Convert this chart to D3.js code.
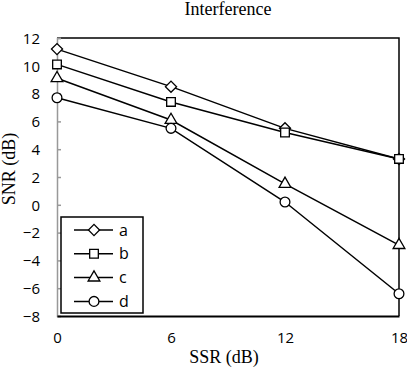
<!DOCTYPE html>
<html>
<head>
<meta charset="utf-8">
<script src="https://cdn.jsdelivr.net/npm/d3@7"></script>
<style>
  body { margin: 0; background: #fff; }
  .tick text { font-family: "Open Sans", sans-serif; font-size: 15px; fill: #000; }
  .serif { font-family: "Liberation Serif", "Times New Roman", serif; font-size: 18px; }
</style>
</head>
<body>
<div id="chart-area"></div>
<script>
const ssr = [0, 6, 12, 18];
const seriesNames = ["a", "b", "c", "d"];
const valuesA = [11.2, 8.5, 5.5, 3.3];
const valuesB = [10.1, 7.4, 5.2, 3.3];
const valuesC = [9.1, 6.1, 1.5, -2.9];
const valuesD = [7.7, 5.5, 0.2, -6.4];
const yTicks = [-8, -6, -4, -2, 0, 2, 4, 6, 8, 10, 12];
const xTicks = [0, 6, 12, 18];

const W = 407, H = 374;
const margin = { top: 38, right: 8, bottom: 58, left: 57 };
const width = W - margin.left - margin.right;
const height = H - margin.top - margin.bottom;

const svg = d3.select("#chart-area")
  .append("svg")
    .attr("width", W)
    .attr("height", H);

const g = svg.append("g")
  .attr("transform", `translate(${margin.left}, ${margin.top})`);

const x = d3.scaleLinear().domain([0, 18]).range([0, width]);
const y = d3.scaleLinear().domain([-8, 12]).range([height, 0]);

// frame: top and right
g.append("path")
  .attr("d", `M0,0H${width}V${height}`)
  .attr("fill", "none")
  .attr("stroke", "#000")
  .attr("stroke-width", 1.5);

const yAxis = g.append("g")
  .attr("class", "y-axis")
  .call(d3.axisRight(y).tickValues(yTicks).tickSize(4).tickFormat(d3.format("d")));
yAxis.select(".domain").attr("stroke", "#999").attr("stroke-width", 1.5);
yAxis.selectAll(".tick line").attr("stroke", "#999").attr("stroke-width", 1.5);
yAxis.selectAll(".tick text")
  .attr("x", -17)
  .attr("text-anchor", "end")
  .attr("dy", "0.35em");

const xAxis = g.append("g")
  .attr("class", "x-axis")
  .attr("transform", `translate(0, ${height})`)
  .call(d3.axisBottom(x).tickValues(xTicks).tickSize(0).tickPadding(16));
xAxis.select(".domain").attr("stroke", "#000").attr("stroke-width", 2);

// diamond = square turned 45 degrees
const series = [
  { name: seriesNames[0], values: valuesA, shape: d3.symbolSquare, size: 62, rot: 45 },
  { name: seriesNames[1], values: valuesB, shape: d3.symbolSquare, size: 75, rot: 0 },
  { name: seriesNames[2], values: valuesC, shape: d3.symbolTriangle, size: 60, rot: 0 },
  { name: seriesNames[3], values: valuesD, shape: d3.symbolCircle, size: 75, rot: 0 }
];

const line = d3.line()
  .x((d, i) => x(ssr[i]))
  .y(d => y(d));

series.forEach((s) => {
  g.append("path")
    .datum(s.values)
    .attr("d", line)
    .attr("fill", "none")
    .attr("stroke", "#000")
    .attr("stroke-width", 1.5);
});

series.forEach((s) => {
  g.selectAll(null)
    .data(s.values)
    .enter()
    .append("path")
      .attr("d", d3.symbol(s.shape, s.size))
      .attr("transform", (d, i) => `translate(${x(ssr[i])}, ${y(d)}) rotate(${s.rot})`)
      .attr("fill", "#fff")
      .attr("stroke", "#000")
      .attr("stroke-width", 1.3);
});

// legend
const legend = g.append("g")
  .attr("transform", "translate(4, 179)");

legend.append("rect")
  .attr("width", 82)
  .attr("height", 96)
  .attr("fill", "#fff")
  .attr("stroke", "#000")
  .attr("stroke-width", 1.5);

series.forEach((s, i) => {
  const row = legend.append("g")
    .attr("transform", `translate(0, ${13 + i * 23.8})`);
  row.append("line")
    .attr("x1", 13).attr("x2", 52)
    .attr("stroke", "#000").attr("stroke-width", 1.5);
  row.append("path")
    .attr("d", d3.symbol(s.shape, s.size))
    .attr("transform", `translate(33, 0) rotate(${s.rot})`)
    .attr("fill", "#fff")
    .attr("stroke", "#000")
    .attr("stroke-width", 1.3);
  row.append("text")
    .attr("x", 58)
    .attr("dy", "0.35em")
    .attr("font-family", "Open Sans, sans-serif")
    .attr("font-size", "16px")
    .text(s.name);
});

svg.append("text")
  .attr("class", "serif")
  .attr("x", 228)
  .attr("y", 15)
  .attr("text-anchor", "middle")
  .text("Interference");

svg.append("text")
  .attr("class", "serif")
  .attr("x", 224)
  .attr("y", 363)
  .attr("text-anchor", "middle")
  .text("SSR (dB)");

svg.append("text")
  .attr("class", "serif")
  .attr("x", -169)
  .attr("y", 15)
  .attr("text-anchor", "middle")
  .attr("transform", "rotate(-90)")
  .text("SNR (dB)");
</script>
</body>
</html>
